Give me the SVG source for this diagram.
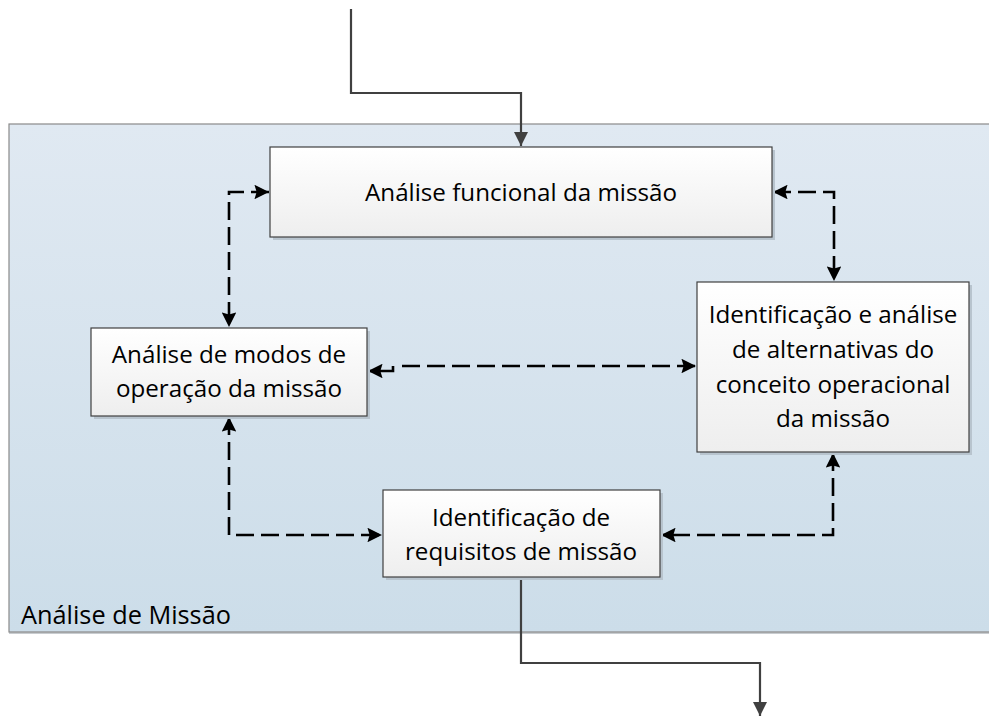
<svg xmlns="http://www.w3.org/2000/svg" width="989" height="718" viewBox="0 0 989 718">
<style>
.t{font-family:"Open Sans","Liberation Sans",sans-serif;font-size:24.2px;fill:#000;text-anchor:middle}
.box{stroke:#404040;stroke-width:1.2;fill:url(#gb)}
.sh{fill:#b8c4ce}
.d{fill:none;stroke:#000;stroke-width:2.6;stroke-dasharray:18 7;marker-start:url(#ab);marker-end:url(#ab)}
.s{fill:none;stroke:#404040;stroke-width:2.2;marker-end:url(#as)}
</style>
<defs>
<linearGradient id="gb" x1="0" y1="0" x2="0" y2="1"><stop offset="0" stop-color="#ffffff"/><stop offset="1" stop-color="#eeeeee"/></linearGradient>
<linearGradient id="gc" x1="0" y1="0" x2="0" y2="1"><stop offset="0" stop-color="#e0e9f2"/><stop offset="1" stop-color="#ccdde9"/></linearGradient>
<marker id="ab" viewBox="0 0 10 10" refX="10" refY="5" markerWidth="6" markerHeight="5.6" markerUnits="strokeWidth" orient="auto-start-reverse"><path d="M0,0 L10,5 L0,10 L1.5,5 z" fill="#000"/></marker>
<marker id="as" viewBox="0 0 10 10" refX="10" refY="5" markerWidth="6.5" markerHeight="6.5" markerUnits="strokeWidth" orient="auto"><path d="M0,0 L10,5 L0,10 z" fill="#404040"/></marker>
</defs>
<g id="container">
<rect x="9" y="126" width="990" height="508" fill="#c8ccd0"/>
<rect x="9" y="124" width="990" height="508" fill="url(#gc)" stroke="#8a8a8a" stroke-width="1.2"/>
<text x="21" y="624" style="font-family:'Open Sans','Liberation Sans',sans-serif;font-size:25.3px;fill:#000">Análise de Missão</text>
</g>
<g id="connectors">
<polyline class="s" points="351,9 351,93 521,93 521,146"/>
<polyline class="s" points="521,577 521,663 760,663 760,716"/>
<polyline class="d" points="269,192 229,192 229,327"/>
<polyline class="d" points="773,192 834,192 834,281"/>
<polyline class="d" style="stroke-dasharray:none;marker-start:none" points="393,366 393,371 368,371"/>
<polyline class="d" style="marker-start:none" points="402,366 696,366"/>
<polyline class="d" points="229,417 229,535 382,535"/>
<polyline class="d" points="833,453 833,535 661,535"/>
</g>
<g id="n1">
<rect class="sh" x="273" y="150" width="502" height="90"/>
<rect class="box" x="270" y="147" width="502" height="90"/>
<text class="t" x="521" y="201">Análise funcional da missão</text>
</g>
<g id="n2">
<rect class="sh" x="700" y="285" width="272" height="170"/>
<rect class="box" x="697" y="282" width="272" height="170"/>
<text class="t" x="833" y="323">Identificação e análise</text>
<text class="t" x="833" y="358">de alternativas do</text>
<text class="t" x="833" y="393">conceito operacional</text>
<text class="t" x="833" y="427">da missão</text>
</g>
<g id="n3">
<rect class="sh" x="94" y="331" width="276" height="88"/>
<rect class="box" x="91" y="328" width="276" height="88"/>
<text class="t" x="229" y="363">Análise de modos de</text>
<text class="t" x="229" y="397">operação da missão</text>
</g>
<g id="n4">
<rect class="sh" x="386" y="493" width="277" height="87"/>
<rect class="box" x="383" y="490" width="277" height="87"/>
<text class="t" x="521" y="526">Identificação de</text>
<text class="t" x="521" y="560">requisitos de missão</text>
</g>
</svg>
